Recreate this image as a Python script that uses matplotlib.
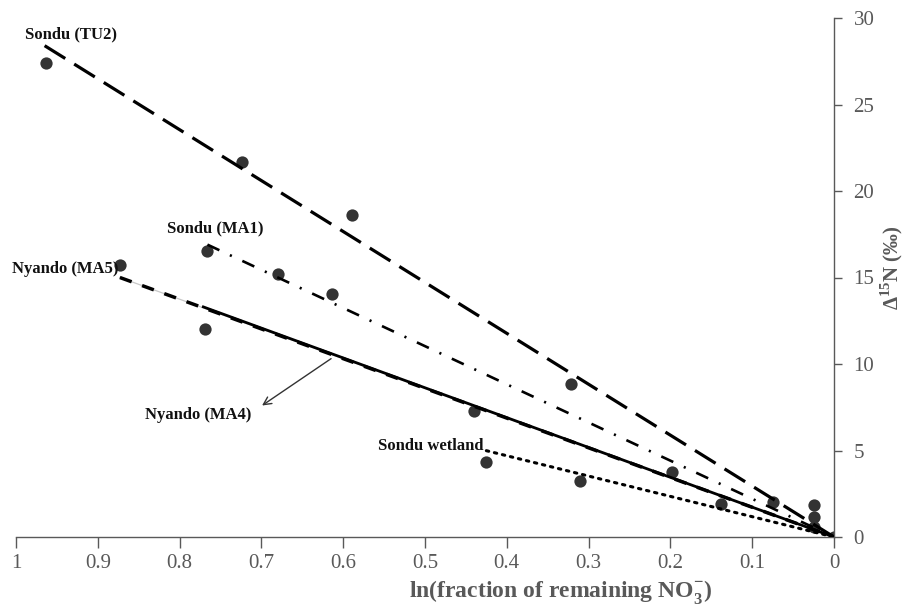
import matplotlib
matplotlib.use("Agg")
import matplotlib.pyplot as plt

plt.rcParams['font.family'] = ['Liberation Serif', 'DejaVu Serif']
plt.rcParams['mathtext.fontset'] = 'custom'
plt.rcParams['mathtext.rm'] = 'Liberation Serif'
plt.rcParams['mathtext.bf'] = 'Liberation Serif:bold'

# ---- data ----
series_names = ["Sondu (TU2)", "Sondu (MA1)", "Nyando (MA5)", "Nyando (MA4)", "Sondu wetland"]

tu2_x = [0.963, 0.724, 0.589, 0.321, 0.075, 0.0]
tu2_y = [27.4, 21.7, 18.6, 8.84, 2.0, 0.0]

ma1_x = [0.767, 0.680, 0.614, 0.025]
ma1_y = [16.55, 15.2, 14.06, 1.83]

ma5_x = [0.873, 0.440, 0.198, 0.025]
ma5_y = [15.75, 7.28, 3.74, 0.55]

ma4_x = [0.769, 0.138]
ma4_y = [12.0, 1.9]

wet_x = [0.425, 0.310, 0.025]
wet_y = [4.35, 3.25, 1.14]

# regression lines: start point (line ends at origin)
line_start_x = [0.965, 0.766, 0.873, 0.771, 0.425]
line_start_y = [28.4, 16.9, 15.0, 13.3, 4.99]
line_end_x = [0.0, 0.0, 0.0, 0.0, 0.0]
line_end_y = [0.0, 0.0, 0.0, 0.0, 0.0]

x_ticks = [1, 0.9, 0.8, 0.7, 0.6, 0.5, 0.4, 0.3, 0.2, 0.1, 0]
x_ticklabels = ["1", "0.9", "0.8", "0.7", "0.6", "0.5", "0.4", "0.3", "0.2", "0.1", "0"]
y_ticks = [0, 5, 10, 15, 20, 25, 30]

# ---- figure ----
fig = plt.figure(figsize=(9.08, 6.09), dpi=100)
ax = fig.add_axes([16/908, 1 - 537/609, (834-16)/908, (537-18)/609])

point_color = '#333333'
for xs, ys in [(tu2_x, tu2_y), (ma1_x, ma1_y), (ma5_x, ma5_y), (ma4_x, ma4_y), (wet_x, wet_y)]:
    ax.scatter(xs, ys, s=78, color=point_color, zorder=2, linewidths=0)

styles = [
    dict(lw=2.3, dashes=[7.6, 3.3], color='black'),
    dict(lw=1.9, dashes=[5.0, 4.4, 0.8, 4.4], color='black'),
    dict(lw=2.5, dashes=[3.6, 3.2], color='black'),
    dict(lw=2.0, color='black'),
    dict(lw=2.2, dashes=[0.8, 1.9], color='black', dash_capstyle='round'),
]
# thin grey underlay of MA5 line
ax.plot([line_start_x[2], line_end_x[2]], [line_start_y[2], line_end_y[2]],
        color='#c8c8c8', lw=0.9, zorder=2.5)
for i in range(5):
    ax.plot([line_start_x[i], line_end_x[i]], [line_start_y[i], line_end_y[i]],
            zorder=3, **styles[i])

# labels
lab_pos = [(0.989, 28.84), (0.815, 17.63), (1.005, 15.26), (0.842, 6.82), (0.557, 5.03)]
for name, (lx, ly) in zip(series_names, lab_pos):
    ax.text(lx, ly, name, fontsize=12, fontweight='bold', ha='left', va='baseline',
            color='#111111', zorder=4)

ax.annotate('', xy=(0.702, 7.51), xytext=(0.612, 10.40),
            arrowprops=dict(arrowstyle='->', color='#333333', lw=1.0,
                            mutation_scale=14))

ax.set_xlim(1, 0)
ax.set_ylim(0, 30)
ax.set_xticks(x_ticks)
ax.set_xticklabels(x_ticklabels)
ax.set_yticks(y_ticks)

ax.yaxis.tick_right()
ax.spines['left'].set_visible(False)
ax.spines['top'].set_visible(False)
for sp in ['right', 'bottom']:
    ax.spines[sp].set_color('#595959')
    ax.spines[sp].set_linewidth(1.0)
ax.tick_params(axis='x', direction='out', length=8, width=1.0, color='#595959',
               labelsize=15, labelcolor='#595959', pad=4)
ax.tick_params(axis='y', direction='out', length=6, width=1.0, color='#595959',
               labelsize=15, labelcolor='#595959', pad=8)
ax.patch.set_visible(False)

fig.text(561/908, 1 - 597/609, r'ln(fraction of remaining NO$_{\mathbf{3}}^{\mathbf{-}}$)',
         fontsize=17, fontweight='bold', color='#595959', ha='center', va='baseline')
fig.text(892/908, 1 - 268/609, r'Δ$^{\mathbf{15}}$N (‰)', rotation=90,
         fontsize=15, fontweight='bold', color='#595959', ha='center', va='center')

fig.savefig('out.png', dpi=100)
